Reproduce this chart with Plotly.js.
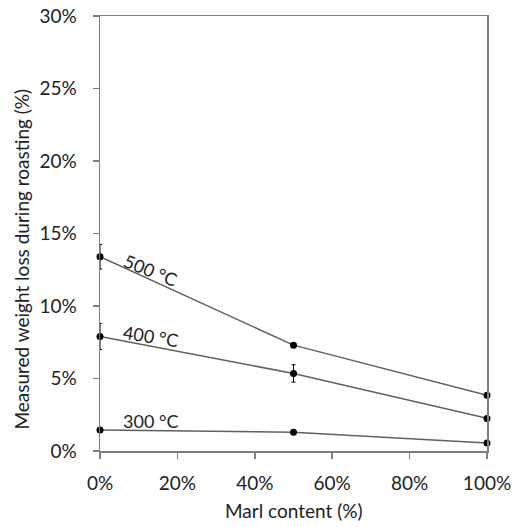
<!DOCTYPE html>
<html><head><meta charset="utf-8">
<script src="https://cdn.plot.ly/plotly-3.0.1.min.js"></script>
<style>html,body{margin:0;padding:0;background:#fff}#chart{width:514px;height:527px}</style>
</head><body><div id="chart"></div>
<script>
const marl = [0, 50, 100];
const loss300 = [1.45, 1.3, 0.55];
const loss400 = [7.9, 5.35, 2.25];
const loss500 = [13.4, 7.3, 3.85];
const err300 = [0, 0, 0];
const err400 = [0.9, 0.6, 0];
const err500 = [0.85, 0, 0];
const seriesNames = ['300 °C', '400 °C', '500 °C'];
const xTicks = [0, 20, 40, 60, 80, 100];
const yTicks = [0, 5, 10, 15, 20, 25, 30];

const font = 'Lato, Open Sans, sans-serif';
const txt = '#222';
function tr(y, e, name) {
  return {
    x: marl, y: y, name: name, type: 'scatter', mode: 'lines+markers',
    line: {color: '#606060', width: 1.5},
    marker: {color: '#000', size: 7},
    error_y: {type: 'data', array: e, visible: true, color: '#000', thickness: 1, width: 2},
    cliponaxis: false
  };
}
const data = [tr(loss300, err300, seriesNames[0]), tr(loss400, err400, seriesNames[1]), tr(loss500, err500, seriesNames[2])];
const layout = {
  width: 514, height: 527,
  margin: {l: 100, r: 27, t: 16, b: 76},
  showlegend: false,
  paper_bgcolor: '#fff', plot_bgcolor: '#fff',
  font: {family: font, color: txt, size: 19},
  xaxis: {
    range: [0, 100], tickvals: xTicks, ticktext: xTicks.map(v => v + '%'),
    showgrid: false, zeroline: false, showline: true, mirror: true,
    linecolor: '#7f7f7f', linewidth: 1.5,
    ticks: 'outside', ticklen: 6, tickcolor: '#7f7f7f', tickwidth: 1.5,
    ticklabelstandoff: 9,
    tickfont: {size: 19, family: font, color: txt}
  },
  yaxis: {
    range: [0, 30], tickvals: yTicks, ticktext: yTicks.map(v => v + '%'),
    showgrid: false, zeroline: false, showline: true, mirror: true,
    linecolor: '#7f7f7f', linewidth: 1.5,
    ticks: 'outside', ticklen: 6, tickcolor: '#7f7f7f', tickwidth: 1.5,
    ticklabelstandoff: 12,
    tickfont: {size: 19, family: font, color: txt}
  },
  annotations: [
    {x: 13, y: 12.5, xref: 'x', yref: 'y', text: seriesNames[2], showarrow: false, textangle: 22, font: {size: 18, family: font, color: txt}},
    {x: 13, y: 7.9, xref: 'x', yref: 'y', text: seriesNames[1], showarrow: false, textangle: 9, font: {size: 18, family: font, color: txt}},
    {x: 13, y: 2.1, xref: 'x', yref: 'y', text: seriesNames[0], showarrow: false, textangle: 0, font: {size: 18, family: font, color: txt}},
    {x: 0.5, y: 0, xref: 'paper', yref: 'paper', xanchor: 'center', yanchor: 'middle', yshift: -59, text: 'Marl content (%)', showarrow: false, font: {size: 19, family: font, color: txt}},
    {x: 0, y: 0.44, xref: 'paper', yref: 'paper', xanchor: 'center', yanchor: 'middle', xshift: -78, text: 'Measured weight loss during roasting (%)', textangle: -90, showarrow: false, font: {size: 19, family: font, color: txt}}
  ]
};
Plotly.newPlot('chart', data, layout, {displayModeBar: false, staticPlot: true});
</script></body></html>
